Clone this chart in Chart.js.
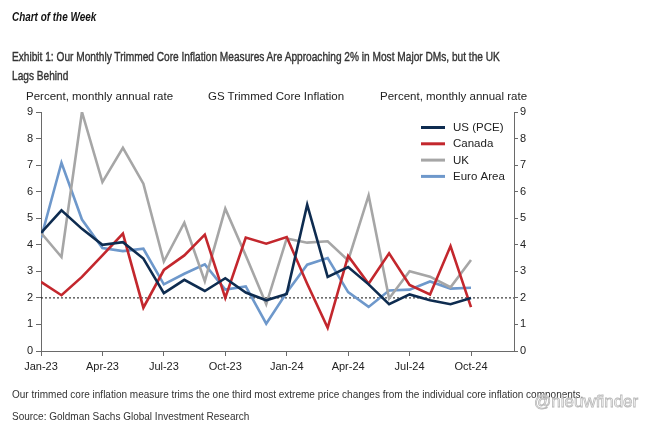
<!DOCTYPE html>
<html>
<head>
<meta charset="utf-8">
<script src="https://cdn.jsdelivr.net/npm/chart.js@4.4.1/dist/chart.umd.min.js"></script>
<style>
  body { margin: 0; background: #fff; }
  #page { position: relative; width: 654px; height: 423px; overflow: hidden; font-family: "Liberation Sans", Arial, sans-serif; color: #222; }
  #page canvas { position: absolute; left: 0; top: 0; }
  .t { position: absolute; white-space: nowrap; line-height: 1; transform-origin: 0 0; }
  .head { font-size: 13.5px; color: #333; -webkit-text-stroke: 0.4px #333; }
</style>
</head>
<body>
<div id="page">
  <canvas id="chart" width="654" height="423"></canvas>
  <div class="t" id="cotw" style="left:12px;top:10px;font-size:13px;font-weight:bold;font-style:italic;color:#111">Chart of the Week</div>
  <div class="t head" id="ex1" style="left:12px;top:50px">Exhibit 1: Our Monthly Trimmed Core Inflation Measures Are Approaching 2% in Most Major DMs, but the UK</div>
  <div class="t head" id="ex2" style="left:12px;top:68.5px">Lags Behind</div>
  <div class="t" style="left:26px;top:91px;font-size:11.5px">Percent, monthly annual rate</div>
  <div class="t" style="left:208px;top:91px;font-size:11.5px">GS Trimmed Core Inflation</div>
  <div class="t" style="left:380px;top:91px;font-size:11.5px">Percent, monthly annual rate</div>
  <div class="t" style="left:12px;top:390px;font-size:10px;color:#333">Our trimmed core inflation measure trims the one third most extreme price changes from the individual core inflation components.</div>
  <div class="t" style="left:12px;top:411.5px;font-size:10px;color:#333">Source: Goldman Sachs Global Investment Research</div>
  <div class="t" style="left:534px;top:393px;font-size:17px;color:#fff;-webkit-text-stroke:0.8px #b8b8b8">@nieuwfinder</div>
</div>
<script>
// monthly, Jan-23 .. Oct-24
var months = ['Jan-23','Feb-23','Mar-23','Apr-23','May-23','Jun-23','Jul-23','Aug-23','Sep-23','Oct-23','Nov-23','Dec-23',
              'Jan-24','Feb-24','Mar-24','Apr-24','May-24','Jun-24','Jul-24','Aug-24','Sep-24','Oct-24'];
var tickLabels = ['Jan-23','Apr-23','Jul-23','Oct-23','Jan-24','Apr-24','Jul-24','Oct-24'];

var usPce  = [4.45, 5.3, 4.6, 4.0, 4.1, 3.48, 2.18, 2.68, 2.26, 2.74, 2.2, 1.91, 2.15, 5.51, 2.79, 3.16, 2.51, 1.76, 2.13, 1.91, 1.76, 2.0];
var canada = [2.6, 2.1, 2.79, 3.6, 4.42, 1.63, 3.05, 3.6, 4.38, 2.0, 4.27, 4.04, 4.29, 2.53, 0.87, 3.58, 2.53, 3.68, 2.49, 2.13, 3.95, 1.65];
var uk     = [4.45, 3.54, 9.0, 6.36, 7.65, 6.3, 3.37, 4.83, 2.63, 5.36, 3.6, 1.76, 4.24, 4.08, 4.13, 3.41, 5.86, 1.98, 3.0, 2.8, 2.4, 3.43];
var euro   = [4.25, 7.09, 4.95, 3.88, 3.76, 3.85, 2.51, 2.91, 3.26, 2.31, 2.43, 1.03, 2.2, 3.25, 3.5, 2.22, 1.66, 2.28, 2.31, 2.62, 2.35, 2.38];
var target = 2;

// the headings are set in a condensed face; squeeze them to the widths of the original
function squeeze(id, w) {
  var el = document.getElementById(id);
  var k = w / el.offsetWidth;
  el.style.transform = 'scaleX(' + k + ')';
  return k;
}
squeeze('cotw', 84);
var k = squeeze('ex1', 488);
document.getElementById('ex2').style.transform = 'scaleX(' + k + ')';

function pts(arr) {
  return arr.map(function (v, i) { return { x: i, y: v }; });
}

function line(label, arr, color) {
  return { label: label, data: pts(arr), borderColor: color, backgroundColor: color,
           borderWidth: 2.6, pointRadius: 0, tension: 0 };
}

// legend drawn inside the plot, top right
var insideLegend = {
  id: 'insideLegend',
  afterDraw: function (chart) {
    var ctx = chart.ctx;
    var x0 = 421, y0 = 127.5, dy = 16.3;
    ctx.save();
    ctx.font = '11.5px "Liberation Sans", Arial, sans-serif';
    ctx.textBaseline = 'middle';
    chart.data.datasets.forEach(function (ds, i) {
      if (ds.hideInLegend) return;
      var y = y0 + i * dy;
      ctx.strokeStyle = ds.borderColor;
      ctx.lineWidth = 3;
      ctx.beginPath();
      ctx.moveTo(x0, y);
      ctx.lineTo(x0 + 24, y);
      ctx.stroke();
      ctx.fillStyle = '#222';
      ctx.fillText(ds.label, x0 + 32, y + 0.5);
    });
    ctx.restore();
  }
};

var axisColor = '#6a6a6a';
var tickFont = { size: 11, family: '"Liberation Sans", Arial, sans-serif' };

new Chart(document.getElementById('chart'), {
  type: 'line',
  data: {
    datasets: [
      line('US (PCE)', usPce, '#0e2c50'),
      line('Canada', canada, '#c3272d'),
      line('UK', uk, '#a6a6a6'),
      line('Euro Area', euro, '#6e98cb'),
      { label: '2%', hideInLegend: true, data: [{ x: 0, y: target }, { x: 23.1, y: target }],
        borderColor: '#111', borderWidth: 1, borderDash: [2, 2], pointRadius: 0 }
    ]
  },
  options: {
    responsive: false,
    animation: false,
    layout: { padding: { top: 112, left: 0, right: 0, bottom: 0 } },
    plugins: { legend: { display: false }, tooltip: { enabled: false } },
    scales: {
      x: {
        type: 'linear', min: 0, max: 23.1,
        afterFit: function (s) { s.height = 72; },
        afterBuildTicks: function (s) {
          s.ticks = tickLabels.map(function (l, i) { return { value: i * 3 }; });
        },
        ticks: {
          autoSkip: false, maxRotation: 0, padding: 4, color: '#222', font: tickFont,
          callback: function (v) { return tickLabels[v / 3]; }
        },
        grid: { drawOnChartArea: false, drawTicks: true, tickLength: 5, color: axisColor },
        border: { display: true, color: axisColor, width: 1 }
      },
      y: {
        position: 'left', min: 0, max: 9,
        afterFit: function (s) { s.width = 41; },
        ticks: { stepSize: 1, padding: 3, color: '#222', font: tickFont },
        grid: { drawOnChartArea: false, drawTicks: true, tickLength: 5, color: axisColor },
        border: { display: true, color: axisColor, width: 1 }
      },
      y2: {
        position: 'right', min: 0, max: 9,
        afterFit: function (s) { s.width = 140; },
        ticks: { stepSize: 1, padding: 2, color: '#222', font: tickFont },
        grid: { drawOnChartArea: false, drawTicks: true, tickLength: 4, color: axisColor },
        border: { display: true, color: axisColor, width: 1 }
      }
    }
  },
  plugins: [insideLegend]
});
</script>
</body>
</html>
